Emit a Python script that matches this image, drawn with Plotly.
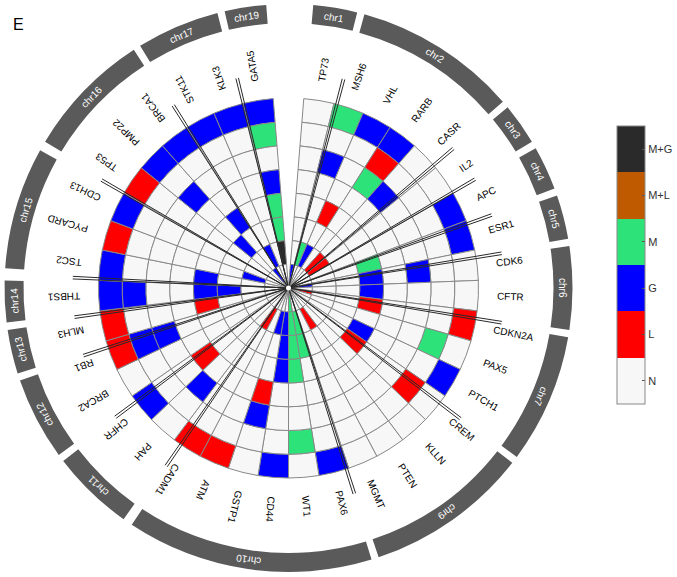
import math
import plotly.graph_objects as go

# ---- data -------------------------------------------------------------
genes = ["TP73", "MSH6", "VHL", "RARB", "CASR", "IL2", "APC", "ESR1", "CDK6", "CFTR",
         "CDKN2A", "PAX5", "PTCH1", "CREM", "KLLN", "PTEN", "MGMT", "PAX6", "WT1", "CD44",
         "GSTP1", "ATM", "CADM1", "PAH", "CHFR", "BRCA2", "RB1", "MLH3", "THBS1", "TSC2",
         "PYCARD", "CDH13", "TP53", "PMP22", "BRCA1", "STK11", "KLK3", "GATA5"]

status_names = ["N", "L", "G", "M", "M+L", "M+G"]
status_colors = ["#f7f7f7", "#ff0000", "#0000ff", "#2ee27a", "#c05a00", "#2a2a2a"]

# one code per gene, rings from the outside (1) towards the centre (8)
ring1 = "N M G G N N G G N N L N G N N N N G N G N L L N G N L L G G L G L G G G G G".split()
ring2 = "N N N L N N N N N N N M N L N N N N M N N N N N N N G N G N N N N N N N N M".split()
ring3 = "N G N M G N N N G N N N N N N N N N N N G N N G N N G N N N N N N G N N N N".split()
ring4 = "N N N N N N N N N N N N N N N N N N N N L N N N L N N N N N N N N N N N N G".split()
ring5 = "N N L N N N N M G G L N G L N N N N M G N N N N N N N L G G N N N N G N N M".split()
ring6 = "N N N N N N N N N N N N N N N N N M M G N N N N N N N N G N N N N G N N N M".split()
ring7 = "N M G N L L N N N N N N N N N L N M M G G N L N N N N N N N G N N N N G N M+G".split()
ring8 = "G N N N N N N N G N L N N N N N N N M N N N N N N N N N N N N N N N G N N N".split()

chrom_names = ["chr1", "chr2", "chr3", "chr4", "chr5", "chr6", "chr7", "chr9", "chr10",
               "chr11", "chr12", "chr13", "chr14", "chr15", "chr16", "chr17", "chr19"]
chrom_start = [5, 15.5, 50.5, 60.5, 71, 81.5, 100, 128, 163, 215.5, 234, 252.5, 263, 274, 301, 328.5, 347]
chrom_end = [14, 49, 59, 69.5, 80, 98.5, 126.5, 161.5, 213.5, 232.5, 251, 261.5, 271.5, 299, 327, 345.5, 355.5]

# ---- geometry ---------------------------------------------------------
W, H = 677, 577
CX, CY, RPIX = 288.5, 288.0, 288.0
R_HEAT = 190.0
rings = [ring1, ring2, ring3, ring4, ring5, ring6, ring7, ring8]
ring_w = R_HEAT / len(rings)
step = 360.0 / (len(genes) + 1)          # one empty slot at the top
theta_gene = [step * (i + 1) for i in range(len(genes))]

AW = {"A": 667, "B": 667, "C": 722, "D": 722, "E": 667, "F": 611, "G": 778, "H": 722,
      "I": 278, "K": 667, "L": 556, "M": 833, "N": 722, "P": 667, "R": 722, "S": 667,
      "T": 611, "V": 667, "W": 944, "Y": 667, "c": 500, "h": 556, "r": 333}


def text_w(s, size):
    return sum(AW.get(ch, 556) for ch in s) * size / 1000.0


def to_paper(r, th):
    a = math.radians(th)
    return (CX + r * math.sin(a)) / W, 1 - (CY - r * math.cos(a)) / H


def norm_angle(a):
    return (a + 180) % 360 - 180


fig = go.Figure()

# heatmap cells
r_list, base_list, th_list, col_list, txt = [], [], [], [], []
for k, ring in enumerate(rings):
    for g, th, code in zip(genes, theta_gene, ring):
        r_list.append(ring_w)
        base_list.append(R_HEAT - (k + 1) * ring_w)
        th_list.append(th)
        col_list.append(status_names.index(code))
        txt.append(f"{g} ring {k + 1}: {code}")

cscale = []
for i, c in enumerate(status_colors):
    cscale += [[i / 6, c], [(i + 1) / 6, c]]

fig.add_trace(go.Barpolar(
    r=r_list, base=base_list, theta=th_list, width=step,
    marker=dict(
        color=col_list, colorscale=cscale, cmin=-0.5, cmax=5.5,
        line=dict(color="#888888", width=1),
        colorbar=dict(
            tickvals=[0, 1, 2, 3, 4, 5], ticktext=status_names,
            thickness=28, thicknessmode="pixels",
            len=278, lenmode="pixels",
            x=617 / W, xanchor="left", xpad=0,
            y=1 - 265 / H, yanchor="middle", ypad=0,
            outlinewidth=1, outlinecolor="#888888",
            ticks="inside", ticklen=3, tickcolor="#555",
            tickfont=dict(size=11, color="#333", family="Arial, Liberation Sans"),
        ),
    ),
    text=txt, hoverinfo="text", showlegend=False,
))

# chromosome ideogram
fig.add_trace(go.Barpolar(
    r=[19] * len(chrom_names), base=[265] * len(chrom_names),
    theta=[(s + e) / 2 for s, e in zip(chrom_start, chrom_end)],
    width=[e - s for s, e in zip(chrom_start, chrom_end)],
    marker=dict(color="#5a5a5a", line=dict(width=0)),
    hovertext=chrom_names, hoverinfo="text", showlegend=False,
))

# separator lines at chromosome gaps
lr, lt = [], []
for i in range(len(chrom_names) - 1):
    mid = (chrom_end[i] + chrom_start[i + 1]) / 2
    for a in (mid - 0.35, mid + 0.35):
        lr += [0, 216, None]
        lt += [a, a, None]
fig.add_trace(go.Scatterpolar(r=lr, theta=lt, mode="lines",
                              line=dict(color="#2a2a2a", width=1),
                              hoverinfo="skip", showlegend=False))
fig.add_trace(go.Scatterpolar(r=[0], theta=[0], mode="markers",
                              marker=dict(color="white", size=5),
                              hoverinfo="skip", showlegend=False))

# labels
ann = []
for g, th in zip(genes, theta_gene):
    rc = 209 + text_w(g, 10) / 2
    x, y = to_paper(rc, th)
    ann.append(dict(x=x, y=y, xref="paper", yref="paper", text=g, showarrow=False,
                    textangle=norm_angle(th - 90), xanchor="center", yanchor="middle",
                    font=dict(size=10, color="black", family="Arial, Liberation Sans")))
for name, s, e in zip(chrom_names, chrom_start, chrom_end):
    th = (s + e) / 2
    x, y = to_paper(274.5, th)
    ann.append(dict(x=x, y=y, xref="paper", yref="paper", text=name, showarrow=False,
                    textangle=norm_angle(th), xanchor="center", yanchor="middle",
                    font=dict(size=10, color="white", family="Arial, Liberation Sans")))
ann.append(dict(x=11 / W, y=1 - 25 / H, xref="paper", yref="paper", text="E", showarrow=False,
                xanchor="left", yanchor="middle",
                font=dict(size=16, color="black", family="Arial, Liberation Sans")))

fig.update_layout(
    width=W, height=H,
    margin=dict(l=0, r=0, t=0, b=0),
    paper_bgcolor="white",
    polar=dict(
        domain=dict(x=[0.5 / W, 576.5 / W], y=[1 / H, 1.0]),
        bgcolor="white", hole=0,
        radialaxis=dict(range=[0, RPIX], visible=False),
        angularaxis=dict(rotation=90, direction="clockwise", visible=False),
    ),
    annotations=ann,
    showlegend=False,
)

# page body has a default 8px margin; drop it so the figure sits at the corner
fig.write_html("out.html", config={"displayModeBar": False},
               post_script="document.body.style.margin='0';")
